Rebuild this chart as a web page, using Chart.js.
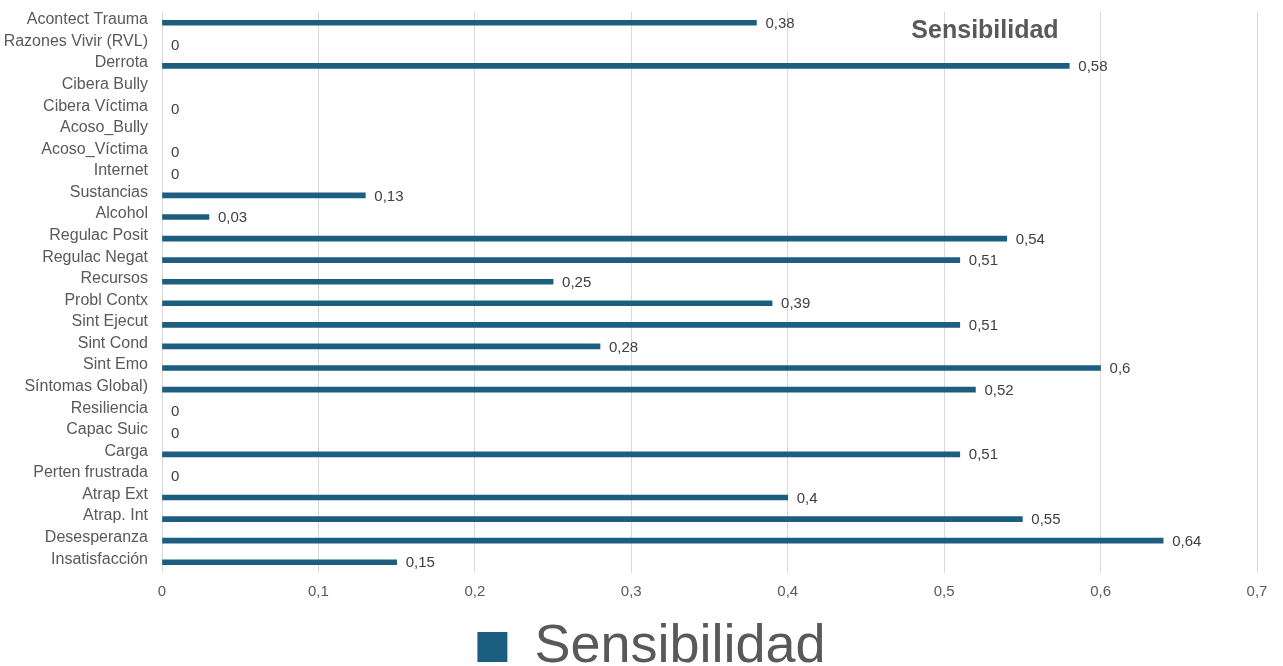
<!DOCTYPE html>
<html>
<head>
<meta charset="utf-8">
<script src="https://cdn.jsdelivr.net/npm/chart.js@4"></script>
<style>
  body { margin: 0; background: #fff; }
  canvas { display: block; }
</style>
</head>
<body>
<canvas id="chart" width="1283" height="666"></canvas>
<script>
let categories = ['Acontect Trauma', 'Razones Vivir (RVL)', 'Derrota', 'Cibera Bully', 'Cibera Víctima',
  'Acoso_Bully', 'Acoso_Víctima', 'Internet', 'Sustancias', 'Alcohol', 'Regulac Posit', 'Regulac Negat',
  'Recursos', 'Probl Contx', 'Sint Ejecut', 'Sint Cond', 'Sint Emo', 'Síntomas Global)', 'Resiliencia',
  'Capac Suic', 'Carga', 'Perten frustrada', 'Atrap Ext', 'Atrap. Int', 'Desesperanza', 'Insatisfacción']
let sensibilidad = [0.38, 0, 0.58, null, 0, null, 0, 0, 0.13, 0.03, 0.54, 0.51, 0.25, 0.39, 0.51, 0.28,
  0.6, 0.52, 0, 0, 0.51, 0, 0.4, 0.55, 0.64, 0.15]
let xTickLabels = ['0', '0,1', '0,2', '0,3', '0,4', '0,5', '0,6', '0,7']

const grey = '#595959'
const barColor = '#1b5e80'
const fam = '"Liberation Sans", Arial, sans-serif'

// value labels at the end of each bar
const valueLabels = {
  id: 'valueLabels',
  afterDatasetsDraw(chart) {
    const ctx = chart.ctx
    const meta = chart.getDatasetMeta(0)
    ctx.save()
    ctx.font = '15px ' + fam
    ctx.fillStyle = '#404040'
    ctx.textAlign = 'left'
    ctx.textBaseline = 'middle'
    meta.data.forEach((bar, i) => {
      const v = sensibilidad[i]
      if (v === null) return
      ctx.fillText(String(v).replace('.', ','), bar.x + 9, bar.y + 1)
    })
    ctx.restore()
  }
}

// title sits inside the plot, top right
const innerTitle = {
  id: 'innerTitle',
  afterDraw(chart) {
    const ctx = chart.ctx
    const a = chart.chartArea
    ctx.save()
    ctx.font = 'bold 25px ' + fam
    ctx.fillStyle = grey
    ctx.textAlign = 'center'
    ctx.textBaseline = 'middle'
    ctx.fillText('Sensibilidad', a.right - 272, a.top + 19)
    ctx.restore()
  }
}

new Chart(document.getElementById('chart').getContext('2d'), {
  type: 'bar',
  data: {
    labels: categories,
    datasets: [{
      label: 'Sensibilidad',
      data: sensibilidad,
      // zero bars leave no mark on the axis
      backgroundColor: c => (c.raw === 0 ? 'rgba(0,0,0,0)' : barColor),
      borderWidth: 0,
      barThickness: 5
    }]
  },
  options: {
    indexAxis: 'y',
    responsive: false,
    animation: false,
    // negative right padding pushes the legend centre to the right
    layout: { padding: { left: 0, right: -20, top: 12, bottom: -18 } },
    scales: {
      x: {
        min: 0,
        max: 0.7,
        ticks: {
          stepSize: 0.1,
          color: grey,
          font: { size: 15, family: fam },
          padding: 10,
          callback: (val, i) => xTickLabels[i]
        },
        grid: { color: '#d9d9d9', drawTicks: false },
        border: { display: false },
        afterFit(scale) {
          scale.height = 43
          scale.paddingLeft = 0
          scale.paddingRight = 26
        }
      },
      y: {
        ticks: {
          color: grey,
          font: { size: 16, family: fam },
          labelOffset: -3,
          padding: 14,
          autoSkip: false
        },
        grid: { display: false, drawTicks: false },
        border: { display: false },
        afterFit(scale) {
          scale.width = 162
          scale.paddingTop = 0
          scale.paddingBottom = 0
        }
      }
    },
    plugins: {
      legend: {
        position: 'bottom',
        labels: {
          boxWidth: 30,
          boxHeight: 30,
          color: grey,
          padding: 4,
          font: { size: 54, family: fam, lineHeight: 1 },
          generateLabels: chart => [{
            text: 'Sensibilidad',
            fillStyle: barColor,
            strokeStyle: barColor,
            lineWidth: 0,
            fontColor: grey,
            datasetIndex: 0
          }]
        }
      },
      tooltip: { enabled: false }
    }
  },
  plugins: [valueLabels, innerTitle]
})
</script>
</body>
</html>
